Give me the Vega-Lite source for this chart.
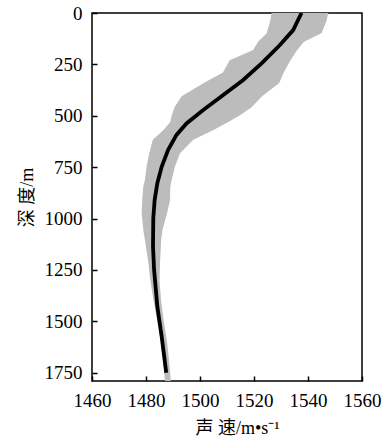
{
  "$schema": "https://vega.github.io/schema/vega-lite/v6.json",
  "width": 270,
  "height": 368,
  "autosize": {"type": "none"},
  "padding": {"left": 92, "top": 13, "right": 23, "bottom": 56},
  "background": "white",
  "config": {
    "view": {"stroke": "black", "strokeWidth": 1.5},
    "axis": {
      "grid": false,
      "domain": false,
      "ticks": true,
      "offset": -5,
      "tickSize": 5,
      "tickColor": "#000000",
      "tickWidth": 1.5,
      "tickOpacity": 1,
      "labelFont": "Liberation Serif",
      "labelFontSize": 19,
      "labelColor": "black",
      "labelOverlap": false,
      "labelFlush": false,
      "format": "d",
      "titleFont": "Liberation Serif, Noto Sans CJK SC",
      "titleFontSize": 18,
      "titleFontWeight": "normal",
      "titleColor": "black",
      "zindex": 1
    }
  },
  "datasets": {
    "band": [
      {"d": 0, "lo": 1526.5, "hi": 1547.5},
      {"d": 40, "lo": 1526.0, "hi": 1546.8},
      {"d": 99, "lo": 1524.7, "hi": 1545.0},
      {"d": 140, "lo": 1521.5, "hi": 1538.5},
      {"d": 180, "lo": 1519.7, "hi": 1536.0},
      {"d": 230, "lo": 1511.0, "hi": 1533.5},
      {"d": 290, "lo": 1508.5, "hi": 1531.0},
      {"d": 342, "lo": 1501.2, "hi": 1529.3},
      {"d": 380, "lo": 1496.5, "hi": 1525.5},
      {"d": 405, "lo": 1493.2, "hi": 1523.0},
      {"d": 460, "lo": 1490.5, "hi": 1519.0},
      {"d": 500, "lo": 1489.5, "hi": 1514.5},
      {"d": 530, "lo": 1489.0, "hi": 1510.5},
      {"d": 569, "lo": 1486.5, "hi": 1505.0},
      {"d": 617, "lo": 1482.5, "hi": 1497.5},
      {"d": 682, "lo": 1481.2, "hi": 1492.6},
      {"d": 748, "lo": 1480.2, "hi": 1490.7},
      {"d": 812, "lo": 1479.6, "hi": 1489.5},
      {"d": 845, "lo": 1479.0, "hi": 1489.0},
      {"d": 910, "lo": 1478.6, "hi": 1488.9},
      {"d": 974, "lo": 1478.4, "hi": 1487.8},
      {"d": 1055, "lo": 1479.0, "hi": 1486.1},
      {"d": 1104, "lo": 1479.6, "hi": 1485.6},
      {"d": 1217, "lo": 1480.9, "hi": 1485.2},
      {"d": 1300, "lo": 1481.6, "hi": 1485.0},
      {"d": 1400, "lo": 1482.8, "hi": 1485.6},
      {"d": 1500, "lo": 1484.2, "hi": 1486.6},
      {"d": 1600, "lo": 1485.5, "hi": 1487.8},
      {"d": 1700, "lo": 1486.4, "hi": 1488.6},
      {"d": 1790, "lo": 1487.0, "hi": 1489.2}
    ],
    "mean": [
      {"d": 0, "v": 1537.6},
      {"d": 83, "v": 1534.5},
      {"d": 156, "v": 1529.6},
      {"d": 245, "v": 1522.8},
      {"d": 326, "v": 1516.0},
      {"d": 399, "v": 1508.6},
      {"d": 472, "v": 1501.2},
      {"d": 537, "v": 1495.0},
      {"d": 593, "v": 1491.3},
      {"d": 666, "v": 1488.2},
      {"d": 748, "v": 1485.8},
      {"d": 828, "v": 1484.2},
      {"d": 910, "v": 1483.2},
      {"d": 999, "v": 1482.7},
      {"d": 1137, "v": 1482.6},
      {"d": 1250, "v": 1483.0},
      {"d": 1428, "v": 1484.2},
      {"d": 1574, "v": 1485.8},
      {"d": 1750, "v": 1487.5}
    ]
  },
  "layer": [
    {
      "data": {"name": "band"},
      "mark": {"type": "area", "orient": "horizontal", "color": "#bcbcbc", "clip": true},
      "encoding": {
        "y": {
          "field": "d", "type": "quantitative",
          "scale": {"domain": [0, 1790], "reverse": true, "nice": false, "zero": false},
          "axis": {"values": [0, 250, 500, 750, 1000, 1250, 1500, 1750], "title": "深  度/m", "labelPadding": 10, "titlePadding": 8}
        },
        "x": {
          "field": "lo", "type": "quantitative",
          "scale": {"domain": [1460, 1560], "nice": false, "zero": false},
          "axis": {"values": [1460, 1480, 1500, 1520, 1540, 1560], "title": "声  速/m•s⁻¹", "titleX": 145, "labelPadding": 10, "titlePadding": 9}
        },
        "x2": {"field": "hi"}
      }
    },
    {
      "data": {"name": "mean"},
      "mark": {"type": "line", "color": "black", "strokeWidth": 3.8, "clip": true},
      "encoding": {
        "y": {"field": "d", "type": "quantitative"},
        "x": {"field": "v", "type": "quantitative"},
        "order": {"field": "d", "type": "quantitative"}
      }
    }
  ]
}
